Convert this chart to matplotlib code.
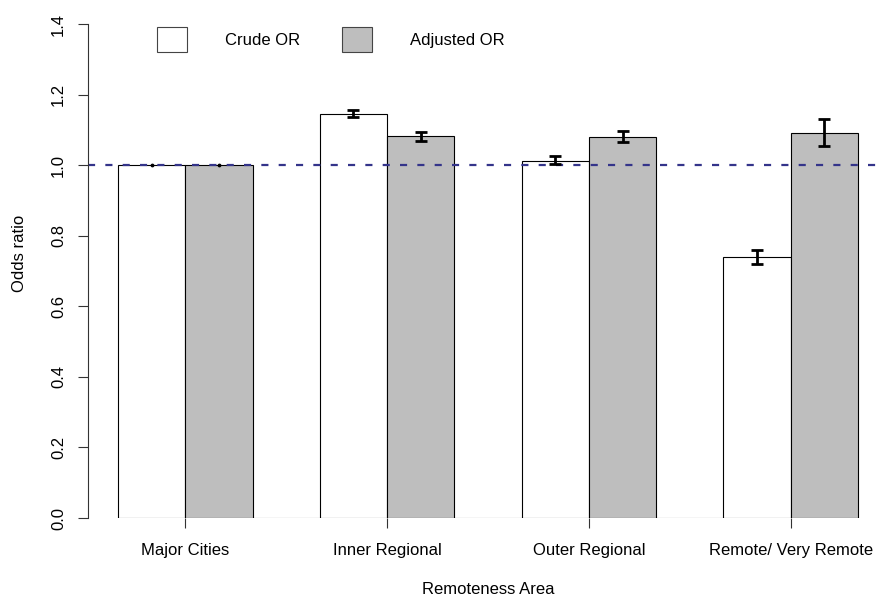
import matplotlib.pyplot as plt
import numpy as np

plt.rcParams['font.family'] = ['Liberation Sans', 'DejaVu Sans']
plt.rcParams['font.size'] = 12

# valores
areas = ['Major Cities', 'Inner Regional', 'Outer Regional', 'Remote/ Very Remote']
crude_or = [1.000, 1.146, 1.013, 0.739]
crude_lo = [1.000, 1.137, 1.003, 0.719]
crude_hi = [1.000, 1.157, 1.026, 0.759]
adj_or = [1.000, 1.082, 1.080, 1.092]
adj_lo = [1.000, 1.068, 1.065, 1.054]
adj_hi = [1.000, 1.094, 1.097, 1.131]
yticks = [0.0, 0.2, 0.4, 0.6, 0.8, 1.0, 1.2, 1.4]

W, H = 879, 597
fig = plt.figure(figsize=(W / 100, H / 100), dpi=100)
# regiao do grafico (estilo barplot do R, passa da borda direita)
ax = fig.add_axes([88.4 / W, 1 - 518 / H, (887.6 - 88.4) / W, (518 - 24) / H])

centros = 2 + 3 * np.arange(len(areas))
x_crude = centros - 0.5
x_adj = centros + 0.5

ax.bar(x_crude, crude_or, width=1, color='white', edgecolor='black', linewidth=0.8,
       label='Crude OR', zorder=1)
ax.bar(x_adj, adj_or, width=1, color='#bebebe', edgecolor='black', linewidth=0.8,
       label='Adjusted OR', zorder=1)

ax.axhline(1.0, color='#34348a', lw=1.6, ls=(0, (3.2, 4.6)), zorder=2)


def barras_erro(x, y, lo, hi):
  x = np.asarray(x); y = np.asarray(y); lo = np.asarray(lo); hi = np.asarray(hi)
  m = hi > lo
  ax.errorbar(x[m], y[m], yerr=[y[m] - lo[m], hi[m] - y[m]], fmt='none',
              ecolor='black', elinewidth=2.0, capsize=4.3, capthick=2.0, zorder=3)
  ax.scatter(x[~m], y[~m], s=3, color='black', zorder=3)


barras_erro(x_crude, crude_or, crude_lo, crude_hi)
barras_erro(x_adj, adj_or, adj_lo, adj_hi)

# linha do eixo x entre o primeiro e o ultimo tick
ax.hlines(0, centros[0], centros[-1], color='#555555', lw=0.8, zorder=0)

ax.set_xlim(0.56, 12.44)
ax.set_ylim(0, 1.4)
for s in ['top', 'right', 'bottom']:
  ax.spines[s].set_visible(False)
ax.spines['left'].set_bounds(0, 1.4)
ax.spines['left'].set_linewidth(0.8)
ax.spines['left'].set_color('#333333')

ax.set_yticks(yticks)
ax.set_yticklabels(['%.1f' % v for v in yticks], rotation=90, va='center')
ax.set_xticks(centros)
ax.set_xticklabels(areas)
ax.tick_params(axis='both', length=7.2, width=0.8, color='#333333')
ax.tick_params(axis='y', pad=9)
ax.tick_params(axis='x', pad=11)

ax.set_ylabel('Odds ratio')
ax.yaxis.set_label_coords((20 - 88.4) / (887.6 - 88.4), (518 - 253) / 494)
ax.yaxis.label.set_va('center')
ax.set_xlabel('Remoteness Area')
ax.xaxis.set_label_coords(0.5, (518 - 590) / 494)
ax.xaxis.label.set_va('center')

leg = ax.legend(loc='upper left', bbox_to_anchor=(157 / W, 1 - 27 / H),
                bbox_transform=fig.transFigure, ncol=2, frameon=False,
                borderpad=0, borderaxespad=0, handlelength=1.8, handleheight=1.9,
                handletextpad=2.3, columnspacing=2.5)
for p in leg.get_patches():
  p.set_edgecolor('#444444')

fig.savefig('out.png', dpi=100)
